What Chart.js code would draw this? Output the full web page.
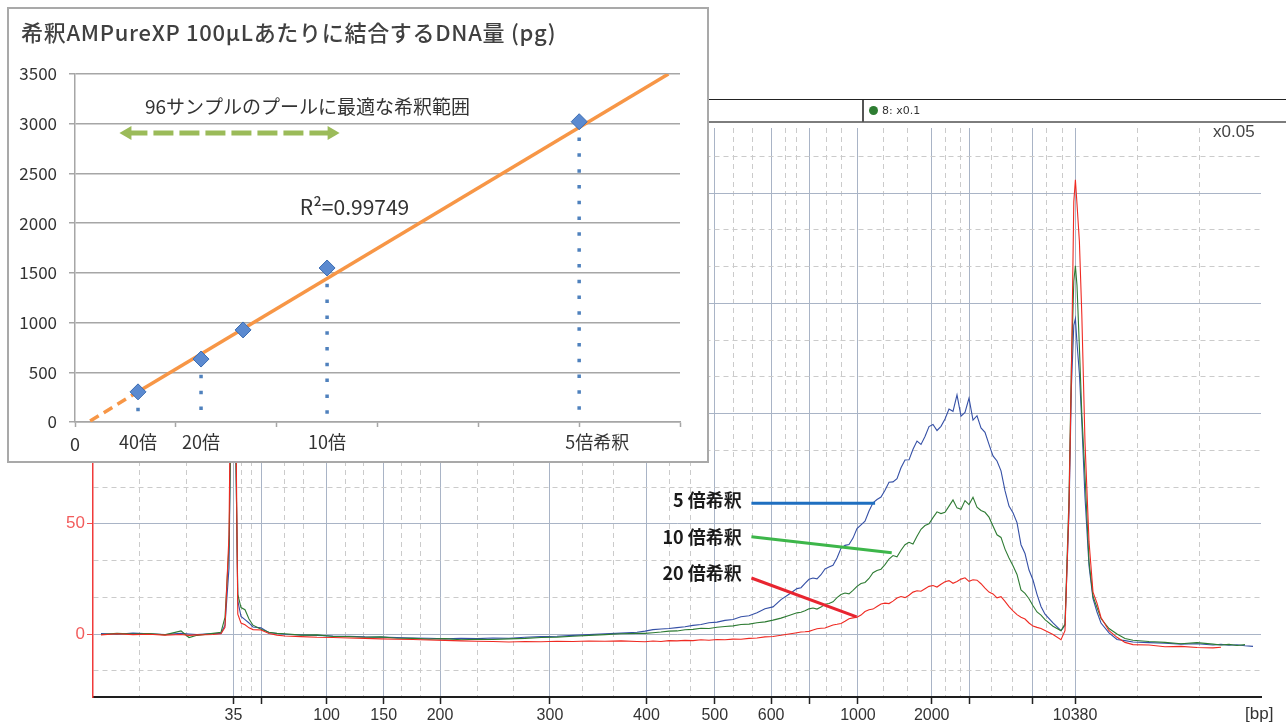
<!DOCTYPE html>
<html>
<head>
<meta charset="utf-8">
<title>希釈AMPureXP 結合DNA量と電気泳動パターン</title>
<script src="https://cdn.jsdelivr.net/npm/chart.js@4.4.1/dist/chart.umd.min.js"></script>
<style>
  html, body { margin: 0; padding: 0; background: #fff; }
  body { width: 1286px; height: 727px; position: relative; overflow: hidden; }
  #trace { position: absolute; left: 0; top: 0; }
  .rule { position: absolute; }
  #sampleTag { position: absolute; left: 869px; top: 104px; height: 14px; font: 11px 'DejaVu Sans', sans-serif; color: #333; line-height: 14px; white-space: nowrap; }
  #sampleTag .dot { display: inline-block; width: 9px; height: 9px; border-radius: 50%; background: #2e7d32; vertical-align: -1px; margin-right: 4px; }
  #scaleNote { position: absolute; left: 1213px; top: 122px; font: 17px 'Liberation Sans', Arial, sans-serif; color: #444; }
  #bpUnit { position: absolute; left: 1245px; top: 704px; font: 17px 'Liberation Sans', Arial, sans-serif; color: #333; }
  #inset { position: absolute; left: 7px; top: 7px; width: 698px; height: 452px; border: 2px solid #a9a9a9; background: #fff; }
  #fit { display: block; }
</style>
</head>
<body>
<canvas id="trace" width="1286" height="727"></canvas>

<div class="rule" style="left:700px; top:99px; width:586px; height:1px; background:#222;"></div>
<div class="rule" style="left:700px; top:121px; width:586px; height:2px; background:#7d7d7d;"></div>
<div class="rule" style="left:862px; top:100px; width:2px; height:22px; background:#555;"></div>
<div id="sampleTag"><span class="dot"></span>8: x0.1</div>
<div id="scaleNote">x0.05</div>
<div id="bpUnit">[bp]</div>

<div id="inset"><canvas id="fit" width="698" height="452"></canvas></div>

<script>
// ---------------- Electropherogram (background) ----------------

// Migration time (s) of every sample point of the three traces
const migrationTime = [
  40.5, 41.5, 42.5, 43.5, 44.5, 45.5, 46, 46.5, 47.5, 48,
  48.25, 48.5, 48.65, 48.78, 48.9, 49.05, 49.25, 49.5, 49.75, 50, 50.5, 51, 51.5,
  52, 53, 54, 55, 56, 57, 58, 59, 60, 61, 62, 63, 64, 65, 66, 67, 68, 69, 70, 71, 72, 73, 74,
  74.5, 75, 75.5, 76, 76.5, 77, 77.5, 78, 78.5, 79, 79.5, 80, 80.5, 81, 81.5, 82, 82.5, 83, 83.5,
  84, 84.25, 84.5, 84.75, 85, 85.25, 85.5, 85.75,
  86, 86.25, 86.5, 86.75, 87, 87.25, 87.5, 87.75,
  88, 88.25, 88.5, 88.75, 89, 89.25, 89.5, 89.75,
  90, 90.25, 90.5, 90.75, 91, 91.25, 91.5, 91.75,
  92, 92.25, 92.5, 92.75, 93, 93.25, 93.5, 93.75,
  94, 94.25, 94.5, 94.75, 95, 95.25, 95.5, 95.75,
  96, 96.25, 96.5, 96.75, 97, 97.25, 97.5, 97.75,
  98, 98.25, 98.5, 98.75, 99, 99.25, 99.5,
  100, 100.5,
  100.75, 101, 101.15, 101.3, 101.4, 101.5, 101.65, 101.8, 102, 102.25, 102.5, 102.75, 103, 103.5, 104, 104.5, 105,
  106, 107, 108, 109, 110, 110.5, 111, 111.5, 112, 112.5
];

// Fluorescence [FU], 5x diluted beads
const fluor5x = [
  0.2, -0.1, 0.4, 0.1, -0.2, 0.3, 0.0, -0.3, 0.2, 0.3,
  4.0, 30, 120, 150, 100, 15, 8.0, 6.5, 5.0, 3.2, 2.8, 0.6, 0.2,
  -0.1, -0.4, -0.6, -0.9, -1.0, -1.3, -1.4, -1.6, -1.8, -1.9, -2.2, -2.0, -2.1, -1.8, -1.9, -1.5, -1.2, -1.0, -0.6, -0.3, 0.1, 0.4, 0.8,
  1.3, 2.0, 2.3, 2.5, 2.9, 3.3, 3.9, 4.3, 5.1, 5.4, 6.2, 6.6, 7.8, 8.3, 9.6, 11.5, 12.3, 15.6, 18.0,
  20.6, 21.0, 23.0, 24.8, 25.4, 25.0, 26.9, 29.5,
  30.4, 31.2, 34.5, 38.9, 40.2, 40.6, 43.5, 47.8,
  49.5, 51.2, 55.8, 59.5, 61.0, 62.1, 65.2, 68.8,
  69.0, 70.5, 75.4, 78.9, 79.0, 83.8, 87.5, 86.0,
  89.6, 94.1, 95.0, 92.3, 94.2, 97.5, 102.0, 101.0,
  108.5, 98.8, 100.5, 107.0, 97.0, 99.0, 93.5, 91.5,
  86.0, 80.8, 78.5, 74.0, 65.0, 58.0, 55.0, 50.5,
  40.5, 36.5, 29.0, 24.5, 18.0, 12.5, 9.0,
  5.0, 1.5,
  4, 55, 112, 140, 143, 132, 118, 96, 62, 31, 16, 10, 5, 0.5, -2.5, -3.0, -3.6,
  -3.9, -4.2, -4.6, -4.4, -5.0, -4.7, -5.1, -4.9, -5.3, -5.6
];

// Fluorescence [FU], 10x diluted beads
const fluor10x = [
  -0.2, 0.3, 0.0, 0.2, -0.4, 1.4, -1.6, -0.6, 0.3, 0.8,
  7.5, 40, 110, 165, 95, 18, 12.0, 11.0, 6.8, 4.0, 2.2, 0.8, 0.3,
  0.1, -0.5, -0.4, -1.1, -1.2, -1.5, -1.3, -1.9, -2.0, -2.3, -2.1, -2.6, -2.4, -2.5, -2.2, -2.0, -1.6, -1.4, -1.0, -0.6, -0.3, 0.1, 0.3,
  0.3, 0.6, 0.9, 1.3, 1.4, 1.9, 2.1, 2.6, 2.5, 3.1, 3.4, 3.7, 4.3, 4.5, 5.1, 5.5, 6.3, 7.2, 8.4,
  9.6, 9.9, 10.5, 11.4, 11.8, 11.3, 12.2, 13.5,
  13.8, 14.6, 16.5, 17.9, 18.6, 18.2, 19.8, 21.6,
  22.9, 23.4, 25.2, 27.8, 28.8, 29.4, 31.5, 34.0,
  35.6, 35.0, 38.0, 40.5, 41.6, 40.8, 44.3, 47.5,
  49.2, 50.0, 52.8, 55.4, 54.6, 55.2, 58.0, 60.8,
  57.2, 56.6, 60.5, 58.7, 62.0, 57.5, 56.0, 55.2,
  53.0, 49.0, 45.0, 43.8, 38.5, 34.5, 31.0, 27.0,
  20.0, 18.4, 16.0, 12.8, 10.0, 8.6, 6.5,
  3.5, 1.5,
  4.5, 62, 122, 160, 167, 158, 130, 100, 72, 33, 17, 12, 7, 2.5, 0, -2.0, -2.8,
  -3.4, -3.8, -4.4, -3.9, -4.6, -5.0, -4.7, -5.2, -4.8, null
];

// Fluorescence [FU], 20x diluted beads
const fluor20x = [
  -0.4, 0.1, -0.3, -0.1, -0.5, -0.2, -0.6, -0.4, -0.2, 0.1,
  3.0, 45, 150, 190, 120, 9, 5.0, 4.2, 2.8, 2.0, 1.8, 0.2, -0.5,
  -0.9, -1.2, -1.5, -1.6, -1.8, -2.0, -2.2, -2.4, -2.5, -2.7, -2.9, -3.1, -3.3, -3.4, -3.6, -3.4, -3.5, -3.3, -3.4, -3.2, -3.3, -3.1, -3.4,
  -3.5, -3.2, -3.4, -3.0, -3.1, -2.9, -3.0, -2.6, -2.8, -2.5, -2.6, -2.3, -2.4, -2.0, -1.8, -1.3, -1.1, -0.6, 0.0,
  0.6, 0.9, 1.0, 1.2, 1.8, 2.4, 2.6, 2.7,
  3.4, 4.1, 4.4, 4.8, 5.8, 6.9, 7.3, 7.6,
  8.6, 10.2, 11.0, 11.3, 12.5, 13.6, 14.0, 13.8,
  14.9, 16.3, 17.0, 16.5, 17.6, 19.0, 19.6, 19.4,
  20.5, 21.6, 22.0, 21.3, 22.6, 23.7, 24.2, 23.0,
  23.8, 24.9, 25.5, 23.9, 24.6, 24.4, 22.8, 20.8,
  19.0, 18.2, 16.4, 16.9, 14.8, 12.4, 10.5, 8.8,
  7.6, 6.8, 5.0, 3.6, 3.0, 2.5, 1.6,
  -0.2, -2.6,
  1.5, 58, 118, 196, 206, 195, 178, 145, 87, 42, 19, 14, 7.5, 1.5, -1.5, -3.8, -4.8,
  -5.0, -5.8, -5.6, -6.1, -6.3, -6.0, null, null, null, null
];

// Ladder peaks: migration time (s) and fragment size (bp)
const ladderTimes = [48.78, 50.5, 54.6, 58.17, 61.69, 68.56, 74.59, 78.86, 82.38, 84.75, 87.81, 92.42, 94.81, 98.69, 101.38];
const ladderBp    = ['35', '50', '100', '150', '200', '300', '400', '500', '600', '700', '1000', '2000', '3000', '7000', '10380'];
const ladderUnlabelled = ['50', '700', '3000', '7000'];

// Intermediate (dashed) time grid lines
const minorGridTimes = [42.88, 45.84, 49.25, 49.88, 51.94, 53.16, 55.81, 56.93, 59.25, 60.44, 64.0, 66.31,
  70.6, 72.56, 76.0, 77.34, 80.06, 81.19, 83.25, 83.97, 85.84, 86.81, 89.38, 90.88, 93.31, 94.19,
  96.16, 97.44, 99.59, 100.59, 105.29, 109.13];

const fuStep = 50 / 3;   // minor FU grid spacing
const gridTimes = ladderTimes.concat(minorGridTimes).sort((a, b) => a - b);

const isLadder = v => ladderTimes.indexOf(v) >= 0;
const isMajorFu = v => Math.abs(v / 50 - Math.round(v / 50)) < 1e-6;
const ladderLabel = v => {
  const i = ladderTimes.indexOf(v);
  if (i < 0 || ladderUnlabelled.indexOf(ladderBp[i]) >= 0) return '';
  return ladderBp[i];
};
const toPoints = vals => migrationTime
  .map((t, i) => ({ x: t, y: vals[i] }))
  .filter(p => p.y !== null);

// Callout labels pointing at each trace (data coordinates)
const dilutionNotes = [
  { text: '5 倍希釈',  at: [80.55, 60.8], from: [81.15, 59.3], to: [88.88, 59.3], color: '#1f6fc0' },
  { text: '10 倍希釈', at: [80.55, 44.0], from: [81.15, 44.1], to: [89.92, 36.9], color: '#3db64a' },
  { text: '20 倍希釈', at: [80.55, 27.7], from: [81.15, 25.4], to: [87.73, 7.8],  color: '#e82530' }
];

const calloutPlugin = {
  id: 'callouts',
  afterDatasetsDraw(chart) {
    const { ctx, scales: { x, y } } = chart;
    ctx.save();
    dilutionNotes.forEach(n => {
      ctx.strokeStyle = n.color;
      ctx.lineWidth = 3;
      ctx.beginPath();
      ctx.moveTo(x.getPixelForValue(n.from[0]), y.getPixelForValue(n.from[1]));
      ctx.lineTo(x.getPixelForValue(n.to[0]), y.getPixelForValue(n.to[1]));
      ctx.stroke();
      ctx.fillStyle = '#1b1b1b';
      ctx.font = "bold 18px 'Noto Sans CJK JP', sans-serif";
      ctx.textAlign = 'right';
      ctx.textBaseline = 'middle';
      ctx.fillText(n.text, x.getPixelForValue(n.at[0]), y.getPixelForValue(n.at[1]));
    });
    ctx.restore();
  }
};

const axisFont = { family: "'Liberation Sans', Arial, sans-serif", size: 16 };

new Chart(document.getElementById('trace'), {
  type: 'line',
  data: {
    datasets: [
      { label: '20 倍希釈', data: toPoints(fluor20x), borderColor: '#ef2a22', order: 0 },
      { label: '10 倍希釈', data: toPoints(fluor10x), borderColor: '#2e7b33', order: 1 },
      { label: '5 倍希釈',  data: toPoints(fluor5x),  borderColor: '#3550a6', order: 2 }
    ]
  },
  options: {
    responsive: false,
    animation: false,
    devicePixelRatio: 1,
    events: [],
    layout: { padding: { top: 128, right: 25, left: 0, bottom: 0 } },
    elements: { line: { borderWidth: 1.1, tension: 0 }, point: { radius: 0 } },
    plugins: { legend: { display: false }, tooltip: { enabled: false } },
    scales: {
      x: {
        type: 'linear', min: 40, max: 113,
        afterBuildTicks: s => { s.ticks = gridTimes.map(v => ({ value: v })); },
        afterFit: s => { s.height = 30; },
        grid: {
          color: c => (c.tick && !isLadder(c.tick.value)) ? '#cbcbcb' : '#a9b4c6',
          lineWidth: 1,
          tickLength: 7,
          tickWidth: 1.5,
          tickColor: c => (c.tick && isLadder(c.tick.value)) ? '#222' : 'rgba(0,0,0,0)'
        },
        border: { color: '#1e1e1e', width: 2, dash: c => (c.tick && !isLadder(c.tick.value)) ? [5, 4] : [] },
        ticks: { autoSkip: false, maxRotation: 0, padding: 2, color: '#333', font: axisFont, callback: v => ladderLabel(v) }
      },
      y: {
        type: 'linear', min: -28.57, max: 229.5,
        afterBuildTicks: s => {
          const t = [];
          for (let k = Math.ceil(s.min / fuStep); k * fuStep <= s.max; k++) t.push({ value: k * fuStep });
          s.ticks = t;
        },
        afterFit: s => { s.width = 93; },
        grid: {
          color: c => (c.tick && !isMajorFu(c.tick.value)) ? '#cbcbcb' : '#a9b4c6',
          lineWidth: 1,
          tickLength: 6,
          tickColor: c => (c.tick && isMajorFu(c.tick.value)) ? '#f05050' : 'rgba(0,0,0,0)'
        },
        border: { color: '#f03a3a', width: 1.5, dash: c => (c.tick && !isMajorFu(c.tick.value)) ? [5, 4] : [] },
        ticks: {
          padding: 2, color: '#f25c5c',
          font: { family: "'Liberation Sans', Arial, sans-serif", size: 17 },
          callback: v => isMajorFu(v) ? String(Math.round(v)) : ''
        }
      }
    }
  },
  plugins: [calloutPlugin]
});

// ---------------- Bound DNA vs bead dilution (inset) ----------------

const relBeadAmount = [0.625, 1.25, 1.667, 2.5, 5];       // relative bead amount (5x dilution = 5)
const boundDnaPg    = [303, 633, 926, 1549, 3020];         // DNA bound per 100 µL diluted beads (pg)
const captionedIdx  = [0, 1, 3, 4];
const dilutionCaptions = ['40倍', '20倍', '10倍', '5倍希釈'];

const fitLineX = [0.625, 5.885];     // linear trend line
const fitLineY = [305, 3500];
const fitExtX  = [0.15, 0.625];      // extrapolation towards the origin
const fitExtY  = [10, 305];
const rSquaredText = 'R²=0.99749';

const poolRangeX = [0.52, 2.545];    // dilution range suitable for a 96-sample pool
const poolRangeY = 2907;

const insetFont = "'Noto Sans CJK JP', 'Noto Sans', sans-serif";

const dropLines = captionedIdx.map(i => ({
  type: 'line',
  data: [{ x: relBeadAmount[i], y: boundDnaPg[i] }, { x: relBeadAmount[i], y: 0 }],
  borderColor: '#4f81bd', borderWidth: 3.5, borderDash: [3.5, 12.3],
  pointRadius: 0, order: 3
}));

const insetTextPlugin = {
  id: 'insetText',
  afterDraw(chart) {
    const { ctx, chartArea, scales: { x, y } } = chart;
    ctx.save();
    ctx.fillStyle = '#404040';
    ctx.textBaseline = 'middle';
    ctx.textAlign = 'left';
    ctx.font = `500 22px ${insetFont}`;
    if ('letterSpacing' in ctx) ctx.letterSpacing = '0.7px';
    ctx.fillText('希釈AMPureXP 100μLあたりに結合するDNA量 (pg)', 12, 24);
    if ('letterSpacing' in ctx) ctx.letterSpacing = '0px';

    ctx.fillStyle = '#333';
    ctx.font = `19px ${insetFont}`;
    ctx.fillText('96サンプルのプールに最適な希釈範囲', x.getPixelForValue(0.694), y.getPixelForValue(3168));

    ctx.font = `21px ${insetFont}`;
    ctx.fillText(rSquaredText, x.getPixelForValue(2.23), y.getPixelForValue(2162));

    ctx.font = `18px ${insetFont}`;
    captionedIdx.forEach((idx, k) => {
      const label = dilutionCaptions[k];
      const head = label.slice(0, label.indexOf('倍') + 1);
      const px = x.getPixelForValue(relBeadAmount[idx]) - ctx.measureText(head).width / 2;
      ctx.fillText(label, px, chartArea.bottom + 20);
    });
    ctx.restore();
  }
};

new Chart(document.getElementById('fit'), {
  type: 'scatter',
  data: {
    datasets: [
      {
        type: 'scatter',
        data: relBeadAmount.map((v, i) => ({ x: v, y: boundDnaPg[i] })),
        pointStyle: 'rectRot', pointRadius: 8,
        backgroundColor: '#5b8ad0', borderColor: '#3b6cb2', borderWidth: 1,
        order: 0
      },
      {
        type: 'line',
        data: poolRangeX.map(v => ({ x: v, y: poolRangeY })),
        borderColor: '#9bbb59', borderWidth: 5, borderDash: [20, 6],
        pointStyle: 'triangle', pointRadius: 8, pointRotation: [-90, 90],
        pointBackgroundColor: '#9bbb59', pointBorderWidth: 0,
        order: 0
      },
      {
        type: 'line',
        data: fitLineX.map((v, i) => ({ x: v, y: fitLineY[i] })),
        borderColor: '#f79646', borderWidth: 3.5, pointRadius: 0, order: 1
      },
      {
        type: 'line',
        data: fitExtX.map((v, i) => ({ x: v, y: fitExtY[i] })),
        borderColor: '#f79646', borderWidth: 3.5, borderDash: [10, 6], pointRadius: 0, order: 1
      },
      ...dropLines
    ]
  },
  options: {
    responsive: false,
    animation: false,
    devicePixelRatio: 1,
    events: [],
    layout: { padding: { top: 65, right: 27, left: 0, bottom: 0 } },
    plugins: { legend: { display: false }, tooltip: { enabled: false } },
    scales: {
      x: {
        type: 'linear', min: 0, max: 6,
        afterFit: s => { s.height = 39; },
        grid: { drawOnChartArea: false, drawTicks: true, tickLength: 5, tickColor: '#a6a6a6', tickWidth: 1.5 },
        border: { color: '#a6a6a6', width: 1.5 },
        ticks: { stepSize: 1, padding: 6, color: '#333', font: { family: insetFont, size: 18 }, callback: v => v === 0 ? '0' : '' }
      },
      y: {
        type: 'linear', min: 0, max: 3500,
        afterFit: s => { s.width = 66; },
        grid: { color: '#a6a6a6', lineWidth: 1.5, tickLength: 6, tickColor: '#a6a6a6' },
        border: { color: '#a6a6a6', width: 1.5 },
        ticks: { stepSize: 500, padding: 12, color: '#333', font: { family: insetFont, size: 17 }, callback: v => String(v) }
      }
    }
  },
  plugins: [insetTextPlugin]
});
</script>
</body>
</html>
